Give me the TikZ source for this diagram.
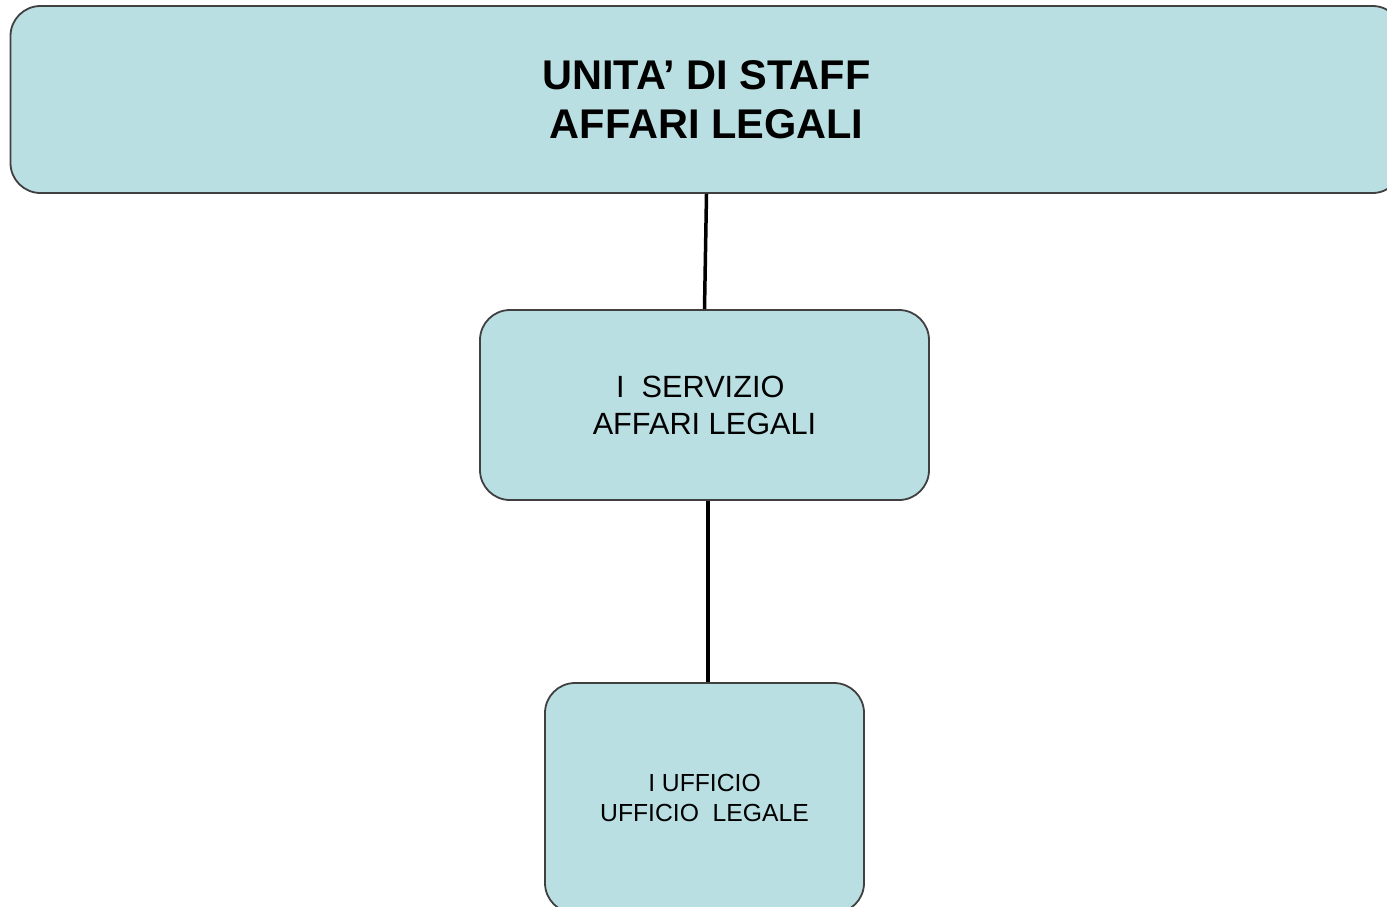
\documentclass[tikz,border=0pt]{standalone}
\usepackage{fontspec}
\setmainfont{Liberation Sans}
\usetikzlibrary{positioning}

\definecolor{boxfill}{HTML}{B9DFE2}
\definecolor{boxline}{HTML}{404040}

\begin{document}
\begin{tikzpicture}[x=1pt, y=-1pt,
		orgbox/.style={rectangle, rounded corners=30pt, draw=boxline, line width=1.8pt, fill=boxfill, inner sep=0pt, align=center, text=black},
		orglink/.style={line width=3.5pt, black}]
		\useasboundingbox (0,0) rectangle (1387,906);
		\clip (0,0) rectangle (1387,906);

		% Boxes
		\node[orgbox, minimum width=1392pt, minimum height=187pt, font=\fontsize{41.5}{49}\selectfont\bfseries] (staff) at (706.5,99.5)
			{UNITA’ DI STAFF\\ AFFARI LEGALI};
		\node[orgbox, minimum width=449pt, minimum height=190pt, font=\fontsize{30.7}{37}\selectfont] (servizio) at (704.5,405)
			{I\ \ SERVIZIO\ \ \\ AFFARI LEGALI};
		\node[orgbox, minimum width=319pt, minimum height=230pt, font=\fontsize{24.7}{30}\selectfont] (ufficio) at (704.5,798)
			{I UFFICIO\\ UFFICIO\ \ LEGALE};

		% Connections
		\draw[orglink] (staff.south) -- (servizio.north);
		\draw[orglink] ([xshift=3.5pt]servizio.south) -- ([xshift=3.5pt]ufficio.north);
\end{tikzpicture}
\end{document}
